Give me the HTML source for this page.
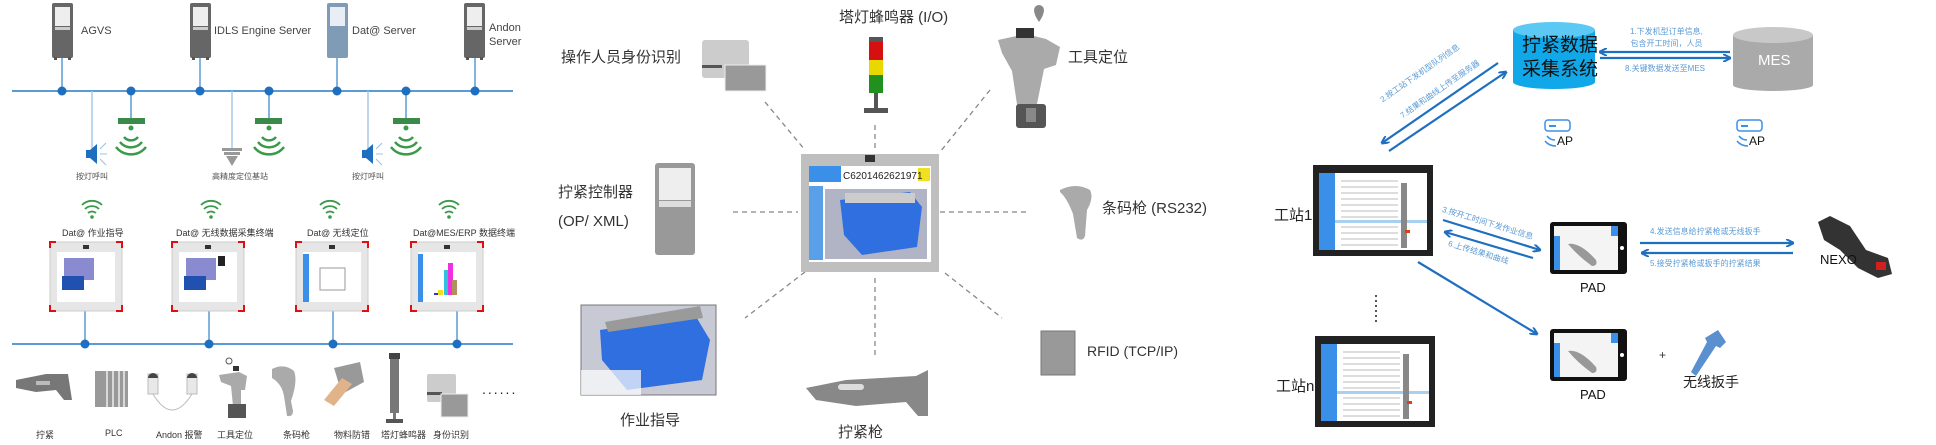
<!DOCTYPE html>
<html><head><meta charset="utf-8">
<style>
html,body{margin:0;padding:0;background:#fff;}
body{width:1936px;height:445px;position:relative;overflow:hidden;font-family:"Liberation Sans","Noto Sans CJK SC",sans-serif;}
.t{position:absolute;white-space:nowrap;color:#333;}
svg{position:absolute;left:0;top:0;}
</style></head><body>
<svg width="1936" height="445" viewBox="0 0 1936 445">
<defs>
<marker id="ah" markerWidth="8" markerHeight="8" refX="7" refY="4" orient="auto" markerUnits="userSpaceOnUse"><path d="M0,0 L8,4 L0,8" fill="none" stroke="#1e6fc0" stroke-width="2"/></marker>
<g id="srv"><rect x="0" y="0" width="21" height="55" rx="2" fill="#666"/><rect x="3" y="4" width="15" height="19" fill="#eee"/><rect x="3" y="24" width="15" height="3" fill="#ccc"/><rect x="2" y="54" width="3" height="3" fill="#555"/><rect x="16" y="54" width="3" height="3" fill="#555"/></g>
<g id="wifi" fill="none" stroke="#3a9a4a" stroke-width="2.5"><circle cx="0" cy="0" r="2.5" fill="#3a9a4a" stroke="none"/><path d="M-7,9 A9,9 0 0 0 7,9"/><path d="M-11,14 A14,14 0 0 0 11,14"/><path d="M-15,19 A19,19 0 0 0 15,19"/></g>
<g id="wsm" fill="none" stroke="#3a9a4a" stroke-width="1.8"><circle cx="0" cy="0" r="1.8" fill="#3a9a4a" stroke="none"/><path d="M-4,-4 A6,6 0 0 1 4,-4"/><path d="M-7,-8 A10,10 0 0 1 7,-8"/><path d="M-10,-12 A14,14 0 0 1 10,-12"/></g>
<g id="tab"><rect x="0" y="0" width="72" height="69" fill="#e6e6e6" stroke="#ccc"/><rect x="7" y="10" width="58" height="50" fill="#fff"/><rect x="33" y="3" width="6" height="4" fill="#333"/>
<path d="M0,6 V0 H6 M66,0 H72 V6 M72,63 V69 H66 M6,69 H0 V63" fill="none" stroke="#e01010" stroke-width="2"/></g>
<g id="mon"><rect x="0" y="0" width="120" height="91" fill="#222"/><rect x="6" y="8" width="108" height="77" fill="#fff"/><rect x="6" y="8" width="16" height="77" fill="#3a8fe8"/><rect x="22" y="55" width="92" height="3" fill="#a8d0f0"/><rect x="88" y="18" width="6" height="65" fill="#888"/><rect x="92" y="65" width="5" height="3" fill="#e04010"/>
<g stroke="#bbb" stroke-width="1"><line x1="28" y1="16" x2="85" y2="16"/><line x1="28" y1="22" x2="85" y2="22"/><line x1="28" y1="28" x2="85" y2="28"/><line x1="28" y1="34" x2="85" y2="34"/><line x1="28" y1="40" x2="85" y2="40"/><line x1="28" y1="46" x2="85" y2="46"/><line x1="28" y1="52" x2="85" y2="52"/><line x1="28" y1="62" x2="85" y2="62"/><line x1="28" y1="68" x2="85" y2="68"/><line x1="28" y1="74" x2="85" y2="74"/><line x1="28" y1="80" x2="85" y2="80"/></g></g>
<g id="pad"><rect x="0" y="0" width="77" height="52" rx="3" fill="#111"/><rect x="4" y="4" width="64" height="44" fill="#f4f4f4"/><rect x="4" y="14" width="6" height="34" fill="#3a8fe8"/><rect x="61" y="4" width="7" height="10" fill="#3a8fe8"/><path d="M18,22 Q30,20 46,38 Q48,44 42,44 Q28,34 18,22Z" fill="#999"/><circle cx="72" cy="26" r="2" fill="#fff"/></g>
</defs>

<!-- PANEL 1 -->
<use href="#srv" x="52" y="3"/><use href="#srv" x="190" y="3"/>
<g><rect x="327" y="3" width="21" height="55" rx="2" fill="#7f9bb5"/><rect x="330" y="7" width="15" height="19" fill="#e8eef4"/></g>
<use href="#srv" x="464" y="3"/>
<g stroke="#5b9bd5" stroke-width="1.5"><line x1="62" y1="58" x2="62" y2="91"/><line x1="200" y1="58" x2="200" y2="91"/><line x1="337" y1="58" x2="337" y2="91"/><line x1="475" y1="58" x2="475" y2="91"/>
<line x1="12" y1="91" x2="513" y2="91" stroke-width="2"/>
<line x1="131" y1="91" x2="131" y2="120"/><line x1="269" y1="91" x2="269" y2="120"/><line x1="406" y1="91" x2="406" y2="120"/>
<line x1="92" y1="91" x2="92" y2="150" stroke="#a8c8e8"/><line x1="232" y1="91" x2="232" y2="148" stroke="#a8c8e8"/><line x1="368" y1="91" x2="368" y2="150" stroke="#a8c8e8"/>
<line x1="12" y1="344" x2="513" y2="344" stroke-width="2"/>
<line x1="85" y1="311" x2="85" y2="344"/><line x1="209" y1="311" x2="209" y2="344"/><line x1="333" y1="311" x2="333" y2="344"/><line x1="457" y1="311" x2="457" y2="344"/></g>
<g fill="#1f6fc0"><circle cx="62" cy="91" r="4.5"/><circle cx="131" cy="91" r="4.5"/><circle cx="200" cy="91" r="4.5"/><circle cx="269" cy="91" r="4.5"/><circle cx="337" cy="91" r="4.5"/><circle cx="406" cy="91" r="4.5"/><circle cx="475" cy="91" r="4.5"/>
<circle cx="85" cy="344" r="4.5"/><circle cx="209" cy="344" r="4.5"/><circle cx="333" cy="344" r="4.5"/><circle cx="457" cy="344" r="4.5"/></g>
<g fill="#3a8a4a"><rect x="118" y="118" width="27" height="6"/><rect x="255" y="118" width="27" height="6"/><rect x="393" y="118" width="27" height="6"/></g>
<use href="#wifi" x="131" y="128"/><use href="#wifi" x="269" y="128"/><use href="#wifi" x="406" y="128"/>
<g fill="#1f6fc0"><path d="M86,150 h4 l7,-6 v20 l-7,-6 h-4z"/><path d="M362,150 h4 l7,-6 v20 l-7,-6 h-4z"/></g>
<g stroke="#9cc0e4" stroke-width="1"><line x1="100" y1="149" x2="106" y2="143"/><line x1="100" y1="154" x2="107" y2="154"/><line x1="100" y1="159" x2="106" y2="165"/><line x1="376" y1="149" x2="382" y2="143"/><line x1="376" y1="154" x2="383" y2="154"/><line x1="376" y1="159" x2="382" y2="165"/></g>
<g fill="#999"><rect x="222" y="148" width="20" height="3"/><rect x="224" y="152" width="16" height="3"/><path d="M226,156 h12 l-6,10z"/></g>
<use href="#wsm" x="92" y="217"/><use href="#wsm" x="211" y="217"/><use href="#wsm" x="330" y="217"/><use href="#wsm" x="449" y="217"/>
<use href="#tab" x="50" y="242"/><use href="#tab" x="172" y="242"/><use href="#tab" x="296" y="242"/><use href="#tab" x="411" y="242"/>
<g><rect x="64" y="258" width="30" height="22" fill="#8a8ad0"/><rect x="62" y="276" width="22" height="14" fill="#2050b0"/><rect x="186" y="258" width="30" height="22" fill="#8a8ad0"/><rect x="184" y="276" width="22" height="14" fill="#2050b0"/><rect x="218" y="256" width="7" height="10" fill="#222"/>
<rect x="303" y="254" width="6" height="48" fill="#3a8fe8"/><rect x="320" y="268" width="25" height="22" fill="none" stroke="#999"/>
<rect x="418" y="254" width="5" height="48" fill="#3a8fe8"/><rect x="444" y="270" width="5" height="25" fill="#30c0e0"/><rect x="448" y="263" width="5" height="32" fill="#f030e0"/><rect x="452" y="280" width="5" height="15" fill="#b09060"/><rect x="438" y="290" width="5" height="5" fill="#f0e020"/><rect x="434" y="293" width="4" height="2" fill="#3030e0"/></g>
<!-- devices -->
<g fill="#777"><path d="M16,380 l30,-6 l22,0 l4,26 l-8,0 l-8,-10 l-20,2 l-20,-4z"/><rect x="36" y="381" width="14" height="4" fill="#bbb"/>
<rect x="95" y="371" width="33" height="36" fill="#999"/><g stroke="#eee" stroke-width="1.5"><line x1="107" y1="371" x2="107" y2="407"/><line x1="113" y1="371" x2="113" y2="407"/><line x1="119" y1="371" x2="119" y2="407"/><line x1="124" y1="371" x2="124" y2="407"/></g>
<rect x="148" y="374" width="10" height="20" fill="#e8e8e8" stroke="#bbb"/><path d="M148,378 a5,5 0 0 1 10,0z" fill="#444"/><rect x="187" y="374" width="10" height="20" fill="#e8e8e8" stroke="#bbb"/><path d="M187,378 a5,5 0 0 1 10,0z" fill="#444"/>
<path d="M153,394 Q172,426 192,394" fill="none" stroke="#bbb"/>
<path d="M219,375 l20,-3 l8,4 l-2,14 l-4,0 l0,16 l-8,0 l-2,-20 l-10,-4z" fill="#aaa"/><rect x="228" y="404" width="18" height="14" fill="#555"/><circle cx="229" cy="361" r="3" fill="none" stroke="#555"/><rect x="233" y="366" width="6" height="5" fill="#333"/>
<path d="M272,369 q12,-6 22,2 q4,10 -3,30 l2,10 q0,6 -6,5 l-3,-20 q-2,-12 -12,-18z" fill="#aaa"/>
<path d="M334,368 l26,-6 l4,20 l-22,12z" fill="#999"/><path d="M324,400 l18,-22 l10,6 l-18,22z" fill="#e0b488"/>
<rect x="390" y="353" width="9" height="60" fill="#777"/><rect x="389" y="353" width="11" height="6" fill="#444"/><rect x="393" y="413" width="3" height="6"/><rect x="386" y="419" width="17" height="4" fill="#555"/>
<rect x="427" y="374" width="29" height="28" rx="2" fill="#ccc"/><rect x="427" y="392" width="15" height="3" fill="#555"/><rect x="441" y="394" width="27" height="23" fill="#999" stroke="#eee"/></g>

<!-- PANEL 2 dashed -->
<g stroke="#888" stroke-width="1.3" stroke-dasharray="5,4"><line x1="765" y1="102" x2="805" y2="150"/><line x1="875" y1="125" x2="875" y2="150"/><line x1="990" y1="90" x2="940" y2="152"/><line x1="733" y1="212" x2="798" y2="212"/><line x1="940" y1="212" x2="1030" y2="212"/><line x1="805" y1="272" x2="745" y2="318"/><line x1="875" y1="278" x2="875" y2="355"/><line x1="945" y1="273" x2="1002" y2="318"/></g>
<!-- ID card -->
<rect x="702" y="40" width="47" height="38" rx="3" fill="#ccc"/><rect x="702" y="65" width="20" height="3" fill="#555"/><rect x="725" y="65" width="41" height="26" fill="#999" stroke="#eee"/>
<!-- tower -->
<rect x="869" y="37" width="14" height="5" fill="#555"/><rect x="869" y="42" width="14" height="18" fill="#d41010"/><rect x="869" y="60" width="14" height="15" fill="#e8d800"/><rect x="869" y="75" width="14" height="18" fill="#20901f"/><rect x="874" y="93" width="4" height="15" fill="#555"/><rect x="864" y="108" width="24" height="5" fill="#555"/>
<!-- tool -->
<path d="M998,40 l28,-6 l20,5 l14,8 l-4,18 l-12,4 l-8,40 l-18,2 l-6,-40 l-10,-18z" fill="#aaa"/><rect x="1016" y="28" width="18" height="10" fill="#333"/><path d="M1034,10 a5,5 0 0 1 10,0 q0,5 -5,12 q-5,-7 -5,-12z" fill="#888"/><rect x="1016" y="104" width="30" height="24" rx="3" fill="#555"/><rect x="1026" y="108" width="10" height="14" fill="#888"/>
<!-- controller -->
<rect x="655" y="163" width="40" height="92" rx="3" fill="#999"/><rect x="659" y="168" width="32" height="32" fill="#eee"/><rect x="659" y="201" width="32" height="6" fill="#ddd"/>
<!-- center tablet -->
<rect x="801" y="154" width="138" height="118" fill="#bfbfbf"/><rect x="809" y="166" width="122" height="96" fill="#fff"/><rect x="865" y="155" width="10" height="7" fill="#333"/><rect x="809" y="166" width="32" height="16" fill="#3a8fe8"/><rect x="918" y="168" width="12" height="13" fill="#f0e020"/>
<rect x="809" y="186" width="14" height="74" fill="#5aa0e8"/><rect x="825" y="189" width="102" height="70" fill="#b0b4c4"/><path d="M840,200 l70,-8 l12,15 l-5,40 l-55,8 l-18,-20z" fill="#2f6fe0"/><rect x="845" y="193" width="70" height="10" fill="#ccc"/>
<!-- work guide image -->
<rect x="581" y="305" width="135" height="90" fill="#c7c9d4" stroke="#777"/><path d="M600,330 l95,-15 l15,25 l-8,40 l-75,10 l-25,-30z" fill="#2f6fe0"/><path d="M605,322 l95,-16 l3,12 l-95,14z" fill="#9a9a9a"/><rect x="581" y="370" width="60" height="25" fill="#fff" opacity=".7"/>
<!-- scanner -->
<path d="M1060,190 q16,-8 30,0 q4,8 -3,20 l-2,26 q-2,6 -8,2 l-4,-24 q-6,-16 -13,-22z" fill="#aaa"/>
<!-- gun -->
<path d="M806,388 l40,-8 l70,-4 l12,-6 l0,46 l-10,0 l-12,-14 l-50,4 l-40,-6z" fill="#888"/><rect x="838" y="384" width="26" height="6" rx="3" fill="#ddd"/>
<!-- RFID -->
<rect x="1041" y="331" width="34" height="44" fill="#999" stroke="#777"/>

<!-- PANEL 3 -->
<g><rect x="1513" y="30" width="82" height="52" fill="#10a8e8"/><ellipse cx="1554" cy="82" rx="41" ry="7" fill="#10a8e8"/><ellipse cx="1554" cy="30" rx="41" ry="8" fill="#5cc8f4"/></g>
<g><rect x="1733" y="35" width="80" height="50" fill="#aaa"/><ellipse cx="1773" cy="85" rx="40" ry="6" fill="#aaa"/><ellipse cx="1773" cy="35" rx="40" ry="8" fill="#c8c8c8"/></g>
<g stroke="#1e6fc0" stroke-width="2.2" fill="none"><line x1="1730" y1="52" x2="1600" y2="52" marker-end="url(#ah)"/><line x1="1600" y1="58" x2="1730" y2="58" marker-end="url(#ah)"/>
<line x1="1498" y1="63" x2="1382" y2="143" marker-end="url(#ah)"/><line x1="1389" y1="151" x2="1506" y2="72" marker-end="url(#ah)"/>
<line x1="1443" y1="220" x2="1540" y2="250" marker-end="url(#ah)"/><line x1="1533" y1="258" x2="1445" y2="232" marker-end="url(#ah)"/>
<line x1="1418" y1="262" x2="1537" y2="334" marker-end="url(#ah)"/>
<line x1="1640" y1="243" x2="1793" y2="243" marker-end="url(#ah)"/><line x1="1793" y1="253" x2="1642" y2="253" marker-end="url(#ah)"/></g>
<g fill="none" stroke="#3a8fe8" stroke-width="1.5"><rect x="1545" y="120" width="25" height="11" rx="3"/><rect x="1737" y="120" width="25" height="11" rx="3"/><path d="M1547,136 q3,4 8,4 M1545,141 q4,5 11,5"/><path d="M1739,136 q3,4 8,4 M1737,141 q4,5 11,5"/></g>
<g fill="#3a8fe8"><rect x="1549" y="125" width="7" height="2"/><rect x="1741" y="125" width="7" height="2"/></g>
<use href="#mon" x="1313" y="165"/><use href="#mon" x="1315" y="336"/>
<g fill="#555"><rect x="1375" y="295" width="2" height="2"/><rect x="1375" y="300" width="2" height="2"/><rect x="1375" y="305" width="2" height="2"/><rect x="1375" y="310" width="2" height="2"/><rect x="1375" y="315" width="2" height="2"/><rect x="1375" y="320" width="2" height="2"/></g>
<use href="#pad" x="1550" y="222"/><use href="#pad" x="1550" y="329"/>
<path d="M1818,222 l12,-6 l20,10 l16,24 l22,8 l4,16 l-14,4 l-20,-10 l-18,-18 l-16,-10z" fill="#333"/><rect x="1876" y="262" width="10" height="8" fill="#d02020"/>
<path d="M1718,330 l8,12 l-6,6 l-4,-2 l-20,30 l-5,-4 l16,-30 l-2,-4z" fill="#5a8fd0"/>
</svg>

<!-- PANEL 1 text -->
<div class="t" style="left:81px;top:25px;font-size:11px;color:#444">AGVS</div>
<div class="t" style="left:214px;top:25px;font-size:11px;color:#444">IDLS Engine Server</div>
<div class="t" style="left:352px;top:25px;font-size:11px;color:#444">Dat@ Server</div>
<div class="t" style="left:489px;top:21px;font-size:11px;color:#444;line-height:14px">Andon<br>Server</div>
<div class="t" style="left:76px;top:171px;font-size:8px;color:#555">按灯呼叫</div>
<div class="t" style="left:212px;top:171px;font-size:8px;color:#555">高精度定位基站</div>
<div class="t" style="left:352px;top:171px;font-size:8px;color:#555">按灯呼叫</div>
<div class="t" style="left:62px;top:226px;font-size:9px">Dat@ 作业指导</div>
<div class="t" style="left:176px;top:226px;font-size:9px">Dat@ 无线数据采集终端</div>
<div class="t" style="left:307px;top:226px;font-size:9px">Dat@ 无线定位</div>
<div class="t" style="left:413px;top:226px;font-size:9px">Dat@MES/ERP 数据终端</div>
<div class="t" style="left:36px;top:428px;font-size:9px">拧紧</div>
<div class="t" style="left:105px;top:428px;font-size:9px">PLC</div>
<div class="t" style="left:156px;top:428px;font-size:9px">Andon 报警</div>
<div class="t" style="left:217px;top:428px;font-size:9px">工具定位</div>
<div class="t" style="left:283px;top:428px;font-size:9px">条码枪</div>
<div class="t" style="left:334px;top:428px;font-size:9px">物料防错</div>
<div class="t" style="left:381px;top:428px;font-size:9px">塔灯蜂鸣器</div>
<div class="t" style="left:433px;top:428px;font-size:9px">身份识别</div>
<div class="t" style="left:482px;top:381px;font-size:14px;letter-spacing:2px;color:#222">......</div>

<!-- PANEL 2 text -->
<div class="t" style="left:561px;top:46px;font-size:15px">操作人员身份识别</div>
<div class="t" style="left:839px;top:6px;font-size:15px">塔灯蜂鸣器 (I/O)</div>
<div class="t" style="left:1068px;top:46px;font-size:15px">工具定位</div>
<div class="t" style="left:558px;top:178px;font-size:15px;line-height:29px">拧紧控制器<br>(OP/ XML)</div>
<div class="t" style="left:1102px;top:197px;font-size:15px">条码枪 (RS232)</div>
<div class="t" style="left:1087px;top:343px;font-size:14px">RFID (TCP/IP)</div>
<div class="t" style="left:620px;top:409px;font-size:15px">作业指导</div>
<div class="t" style="left:838px;top:421px;font-size:15px">拧紧枪</div>
<div class="t" style="left:843px;top:171px;font-size:10px;color:#222">C6201462621971</div>

<!-- PANEL 3 text -->
<div class="t" style="left:1522px;top:34px;font-size:19px;line-height:24px;color:#111">拧紧数据<br>采集系统</div>
<div class="t" style="left:1758px;top:52px;font-size:15px;color:#fff">MES</div>
<div class="t" style="left:1630px;top:26px;font-size:8px;line-height:12px;color:#5b9bd5;text-align:center">1.下发机型订单信息,<br>包含开工时间，人员</div>
<div class="t" style="left:1625px;top:63px;font-size:8px;color:#5b9bd5">8.关键数据发送至MES</div>
<div class="t" style="left:1378px;top:96px;font-size:8px;color:#5b9bd5;transform:rotate(-35deg);transform-origin:left top">2.按工站下发机型队列信息</div>
<div class="t" style="left:1398px;top:112px;font-size:8px;color:#5b9bd5;transform:rotate(-35deg);transform-origin:left top">7.结果和曲线上传至服务器</div>
<div class="t" style="left:1557px;top:134px;font-size:12px;color:#111">AP</div>
<div class="t" style="left:1749px;top:134px;font-size:12px;color:#111">AP</div>
<div class="t" style="left:1274px;top:204px;font-size:15px;color:#222">工站1</div>
<div class="t" style="left:1276px;top:375px;font-size:15px;color:#222">工站n</div>
<div class="t" style="left:1444px;top:204px;font-size:8px;color:#5b9bd5;transform:rotate(17deg);transform-origin:left top">3.按开工时间下发作业信息</div>
<div class="t" style="left:1450px;top:238px;font-size:8px;color:#5b9bd5;transform:rotate(17deg);transform-origin:left top">6.上传结果和曲线</div>
<div class="t" style="left:1650px;top:226px;font-size:8px;color:#5b9bd5">4.发送信息给拧紧枪或无线扳手</div>
<div class="t" style="left:1650px;top:258px;font-size:8px;color:#5b9bd5">5.接受拧紧枪或扳手的拧紧结果</div>
<div class="t" style="left:1580px;top:280px;font-size:13px;color:#111">PAD</div>
<div class="t" style="left:1580px;top:387px;font-size:13px;color:#111">PAD</div>
<div class="t" style="left:1820px;top:252px;font-size:13px;color:#111">NEXO</div>
<div class="t" style="left:1659px;top:348px;font-size:12px;color:#333">+</div>
<div class="t" style="left:1683px;top:372px;font-size:14px;color:#222">无线扳手</div>
</body></html>
